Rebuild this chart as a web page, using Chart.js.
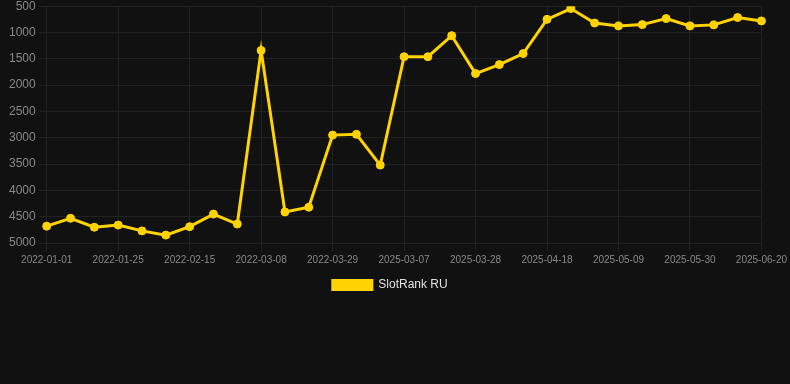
<!DOCTYPE html>
<html>
<head>
<meta charset="utf-8">
<script src="https://cdn.jsdelivr.net/npm/chart.js@4"></script>
<style>
  html, body { margin: 0; padding: 0; background: #111111; overflow: hidden; }
  #wrap { width: 790px; height: 305px; position: relative; top: -4px; }
</style>
</head>
<body>
<div id="wrap"><canvas id="c"></canvas></div>
<script>
const categories = [
  "2022-01-01","2022-01-11","2022-01-18","2022-01-25","2022-02-01","2022-02-08",
  "2022-02-15","2022-02-22","2022-03-01","2022-03-08","2022-03-15","2022-03-22",
  "2022-03-29","2022-04-05","2025-02-28","2025-03-07","2025-03-14","2025-03-21",
  "2025-03-28","2025-04-04","2025-04-11","2025-04-18","2025-04-25","2025-05-02",
  "2025-05-09","2025-05-16","2025-05-23","2025-05-30","2025-06-06","2025-06-13",
  "2025-06-20"
];
const seriesName = "SlotRank RU";
const rankValues = [
  4680, 4530, 4700, 4660, 4770, 4850, 4690, 4450, 4640, 1340,
  4410, 4320, 2950, 2935, 3520, 1460, 1460, 1060, 1780, 1610,
  1400, 750, 545, 820, 875, 850, 735, 875, 855, 715,
  780
];
const yTicks = [500, 1000, 1500, 2000, 2500, 3000, 3500, 4000, 4500, 5000];

const gold = "#FFD300";
const fontFam = "Arial, 'Liberation Sans', sans-serif";

const legendShift = {
  id: "legendShift",
  afterLayout(chart) {
    if (chart.legend) { chart.legend.left -= 5; chart.legend.right -= 5; }
  }
};

new Chart(document.getElementById("c"), {
  type: "line",
  data: {
    labels: categories,
    datasets: [{
      label: seriesName,
      data: rankValues,
      borderColor: gold,
      backgroundColor: gold,
      pointBackgroundColor: gold,
      pointBorderColor: gold,
      borderWidth: 3,
      pointRadius: 4,
      pointBorderWidth: 1,
      tension: 0
    }]
  },
  plugins: [legendShift],
  options: {
    responsive: true,
    maintainAspectRatio: false,
    animation: false,
    plugins: {
      legend: {
        position: "bottom",
        labels: {
          color: "#e0e0e0",
          font: { family: fontFam, size: 12 },
          boxWidth: 40,
          boxHeight: 10,
          generateLabels: (chart) => {
            const items = Chart.defaults.plugins.legend.labels.generateLabels(chart);
            items.forEach(it => { it.lineWidth = 2; });
            return items;
          }
        }
      },
      tooltip: { enabled: false }
    },
    scales: {
      x: {
        grid: { color: "#222222" },
        border: { color: "#222222" },
        ticks: {
          color: "#888888",
          font: { family: fontFam, size: 10 },
          maxRotation: 0,
          autoSkip: true,
          maxTicksLimit: 11
        }
      },
      y: {
        reverse: true,
        min: yTicks[0],
        max: yTicks[yTicks.length - 1],
        afterBuildTicks: (axis) => { axis.ticks = yTicks.map(v => ({ value: v })); },
        afterFit: (axis) => { axis.width += 6; },
        grid: { color: "#222222" },
        border: { color: "#222222" },
        ticks: {
          color: "#888888",
          font: { family: fontFam, size: 12 },
          callback: (v) => String(v)
        }
      }
    }
  }
});
</script>
</body>
</html>
